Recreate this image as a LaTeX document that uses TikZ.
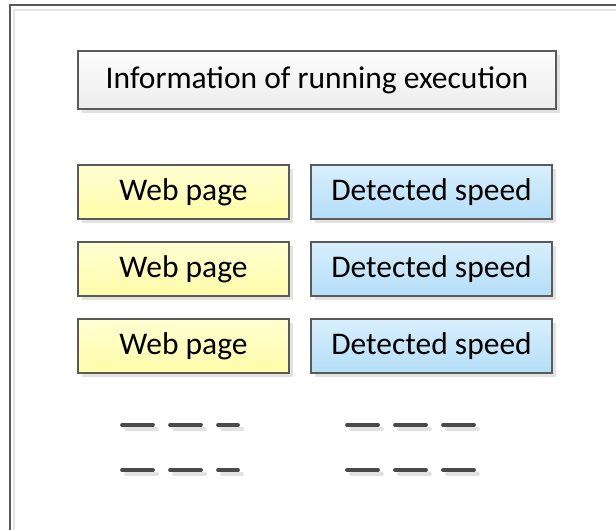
\documentclass[tikz,border=0pt]{standalone}
\usepackage{fontspec}
\setmainfont{Carlito}
\usetikzlibrary{shadows}
\definecolor{edge}{HTML}{5A5A5A}
\definecolor{dashc}{HTML}{4A4A4A}
\definecolor{shade}{HTML}{E2E2E2}
\definecolor{pagetop}{HTML}{FFFFD2}
\definecolor{pagebot}{HTML}{FFFCA8}
\definecolor{speedtop}{HTML}{D8EFFD}
\definecolor{speedbot}{HTML}{B4DEF8}
\definecolor{headtop}{HTML}{FCFCFC}
\definecolor{headbot}{HTML}{EDEDED}
\tikzset{
  x=1pt, y=-1pt,
  basebox/.style={draw=edge, line width=1.1pt, inner sep=0pt,
    font=\fontsize{31.5}{34}\selectfont,
    drop shadow={shadow xshift=4pt, shadow yshift=-4pt, fill=shade, opacity=1}},
  headbox/.style={basebox, top color=headtop, bottom color=headbot,
    minimum width=478pt, minimum height=58pt},
  pagebox/.style={basebox, top color=pagetop, bottom color=pagebot,
    minimum width=211pt, minimum height=54pt},
  speedbox/.style={basebox, top color=speedtop, bottom color=speedbot,
    minimum width=241pt, minimum height=54pt},
  dashline/.style={draw=dashc, line width=3.8pt, line cap=round},
  dashshadow/.style={draw=shade, line width=3.8pt, line cap=round},
}
\begin{document}
\begin{tikzpicture}
\useasboundingbox (0,0) rectangle (616,530);
% outer frame, running off the page at right and bottom
\draw[black!10, line width=1.5pt] (14,530) -- (14,10) -- (616,10);
\draw[edge, line width=2pt] (9.5,530) -- (9.5,5) -- (616,5);

\node[headbox] (head) at (317,80) {Information of running execution};

\foreach \i/\yy in {1/192, 2/269, 3/346} {
  \node[pagebox]  (page\i)  at (183.5,\yy) {Web page};
  \node[speedbox] (speed\i) at (431.5,\yy) {Detected speed};
}

% continuation marks below the rows
\foreach \yy in {425, 470} {
  \foreach \a/\b in {122/153, 170/201, 218/238, 347/378, 395/426, 443/474} {
    \draw[dashshadow] (\a+4,\yy+4) -- (\b+4,\yy+4);
  }
  \foreach \a/\b in {122/153, 170/201, 218/238, 347/378, 395/426, 443/474} {
    \draw[dashline] (\a,\yy) -- (\b,\yy);
  }
}
\end{tikzpicture}
\end{document}
